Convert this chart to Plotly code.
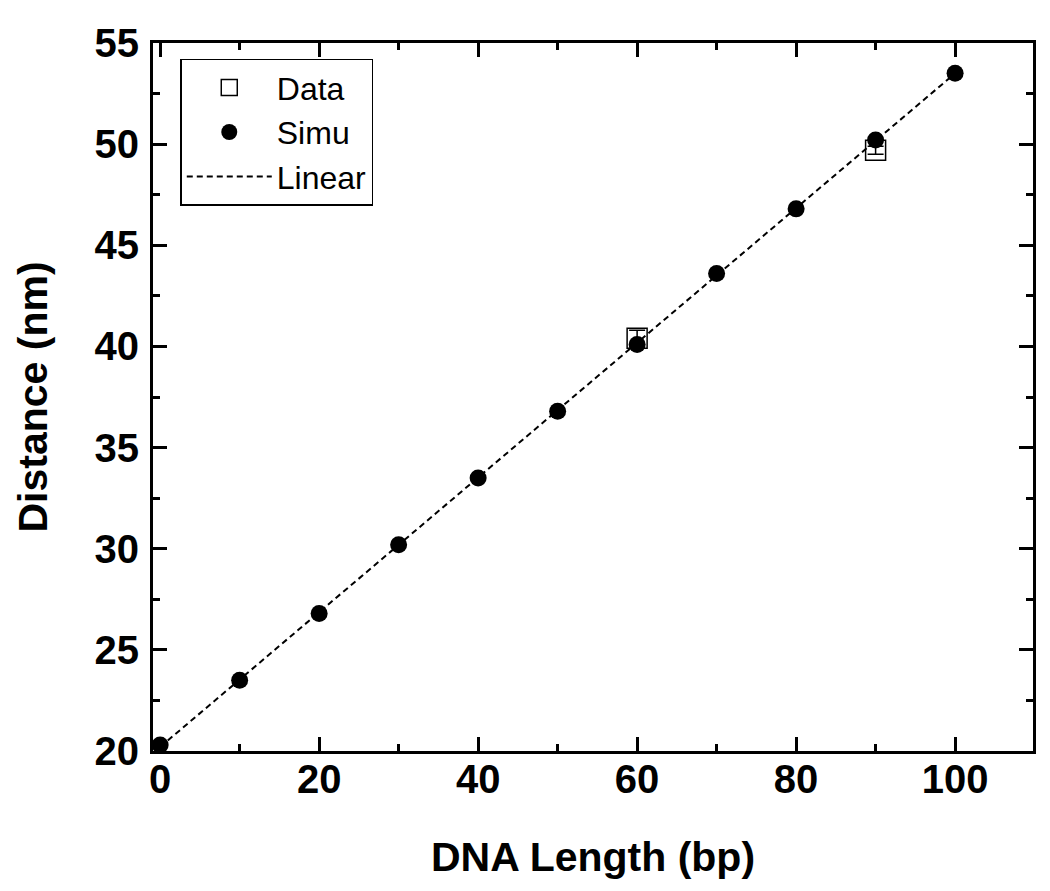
import plotly.graph_objects as go

# ---- data ----
simu_x = [0, 10, 20, 30, 40, 50, 60, 70, 80, 90, 100]
simu_y = [20.3, 23.5, 26.8, 30.2, 33.5, 36.8, 40.1, 43.6, 46.8, 50.2, 53.5]

data_x = [60, 90]
data_y = [40.4, 49.7]
data_err = [0.4, 0.2]

linear_x = [0, 100]
linear_y = [20.2, 53.5]

x_ticks = [0, 20, 40, 60, 80, 100]
y_ticks = [20, 25, 30, 35, 40, 45, 50, 55]

FONT = "Liberation Sans, Arial, sans-serif"

fig = go.Figure()
fig.add_trace(go.Scatter(
    x=linear_x, y=linear_y, mode="lines", name="Linear",
    line=dict(color="black", width=2, dash="6px,4px"),
    legendrank=3,
))
fig.add_trace(go.Scatter(
    x=data_x, y=data_y, mode="markers", name="Data",
    marker=dict(symbol="square-open", size=20, color="black", line=dict(width=1.5)),
    error_y=dict(type="data", array=data_err, visible=True, color="black", thickness=1.5, width=8),
    legendrank=1,
))
fig.add_trace(go.Scatter(
    x=simu_x, y=simu_y, mode="markers", name="Simu",
    marker=dict(symbol="circle", size=17, color="black"),
    legendrank=2,
))

axis_common = dict(
    showline=True, linecolor="black", linewidth=3, mirror="ticks",
    ticks="inside", ticklen=14, tickwidth=2.5, tickcolor="black",
    showgrid=False, zeroline=False,
    tickfont=dict(family=FONT, size=40, color="black", weight="bold"),
)

fig.update_xaxes(
    range=[-0.9, 109.8], tickvals=x_ticks,
    minor=dict(dtick=10, ticks="inside", ticklen=7, tickwidth=2.5, tickcolor="black", showgrid=False),
    title=dict(text="DNA Length (bp)", font=dict(family=FONT, size=41, color="black", weight="bold"), standoff=43),
    ticklabelstandoff=-9,
    **axis_common,
)
fig.update_yaxes(
    range=[20, 55], tickvals=y_ticks,
    minor=dict(dtick=2.5, ticks="inside", ticklen=7, tickwidth=2.5, tickcolor="black", showgrid=False),
    title=dict(text="Distance (nm)", font=dict(family=FONT, size=41, color="black", weight="bold"), standoff=35),
    ticklabelstandoff=3,
    **axis_common,
)

fig.update_layout(
    width=1042, height=883,
    margin=dict(l=145, r=17, t=35, b=140),
    paper_bgcolor="white", plot_bgcolor="white",
    showlegend=True,
    legend=dict(
        x=0.031, y=0.978, xanchor="left", yanchor="top",
        bgcolor="white", bordercolor="black", borderwidth=1.5,
        font=dict(family=FONT, size=32, color="black"),
        itemwidth=85, tracegroupgap=0,
    ),
)

fig.write_html("out.html")
